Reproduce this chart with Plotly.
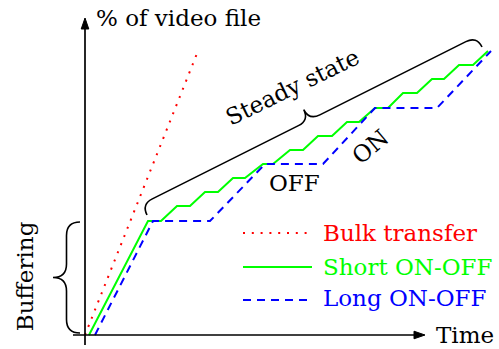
import numpy as np
import plotly.graph_objects as go

# ---- data (arbitrary units: time vs % of video file) ----
time_bulk = [0, 113]
pct_bulk = [0, 284]

time_short = [4, 63, 76, 92, 105, 120, 133, 148, 160, 178, 188, 205, 218, 233,
              247, 262, 274, 290, 303, 318, 332, 347, 359, 374, 388, 403]
pct_short = [0, 114, 114, 129, 129, 143, 143, 157, 157, 171, 171, 185, 185, 199,
             199, 213, 213, 227, 227, 242, 242, 256, 256, 270, 270, 284]

time_long = [10, 68, 125, 180, 238, 290, 352, 406]
pct_long = [0, 114, 114, 171, 171, 227, 227, 284]

series_names = ["Bulk transfer", "Short ON-OFF", "Long ON-OFF"]
series_colors = ["#ff0000", "#00ff00", "#0000ff"]

FONT = "DejaVu Serif, Liberation Serif, serif"
FS = 23

fig = go.Figure()

fig.add_trace(go.Scatter(x=time_bulk, y=pct_bulk, mode="lines",
                         line=dict(color=series_colors[0], width=2, dash="2px,6.8px"),
                         showlegend=False, hoverinfo="skip"))
fig.add_trace(go.Scatter(x=time_short, y=pct_short, mode="lines",
                         line=dict(color=series_colors[1], width=2),
                         showlegend=False, hoverinfo="skip"))
fig.add_trace(go.Scatter(x=time_long, y=pct_long, mode="lines",
                         line=dict(color=series_colors[2], width=2, dash="8px,6px"),
                         showlegend=False, hoverinfo="skip"))

shapes = []
# axes with arrows
shapes.append(dict(type="line", x0=0, x1=0, y0=-10, y1=308, xref="x", yref="y",
                   line=dict(color="black", width=1.7)))
shapes.append(dict(type="path", xref="x", yref="y",
                   path="M -3.8,306 L 0,317 L 3.8,306 Z", fillcolor="black",
                   line=dict(color="black", width=1)))
shapes.append(dict(type="line", x0=-12, x1=330, y0=0, y1=0, xref="x", yref="y",
                   line=dict(color="black", width=1.7)))
shapes.append(dict(type="path", xref="x", yref="y",
                   path="M 329,-3.8 L 340,0 L 329,3.8 Z", fillcolor="black",
                   line=dict(color="black", width=1)))


def brace(A, B, a):
    A = np.array(A, float)
    B = np.array(B, float)
    L = np.linalg.norm(B - A)
    u = (B - A) / L
    n = np.array([-u[1], u[0]])
    h = a / 2.0
    M = (A + B) / 2.0
    pts = [
        ("M", [A]),
        ("Q", [A + n * h, A + n * h + u * h]),
        ("L", [M - u * h + n * h]),
        ("Q", [M + n * h, M + n * a]),
        ("Q", [M + n * h, M + u * h + n * h]),
        ("L", [B - u * h + n * h]),
        ("Q", [B + n * h, B]),
    ]
    s = ""
    for cmd, ps in pts:
        s += cmd + " " + " ".join(f"{p[0]:.2f},{p[1]:.2f}" for p in ps) + " "
    return s.strip()


shapes.append(dict(type="path", xref="x", yref="y", path=brace((-5, 2), (-5, 113), 27),
                   line=dict(color="black", width=1.6)))
shapes.append(dict(type="path", xref="x", yref="y", path=brace((62, 120), (397, 288), 24),
                   line=dict(color="black", width=1.6)))

# legend samples
leg_y = [102, 68, 35]
dashes = ["2px,6.8px", "solid", "8px,6px"]
for yy, c, d in zip(leg_y, series_colors, dashes):
    shapes.append(dict(type="line", xref="x", yref="y", x0=158, x1=227, y0=yy, y1=yy,
                       line=dict(color=c, width=2, dash=d)))

ann = []


def txt(t, x, y, color="black", xanchor="left", angle=0):
    ann.append(dict(text=t, x=x, y=y, xref="x", yref="y", showarrow=False,
                    xanchor=xanchor, yanchor="middle", textangle=angle,
                    font=dict(family=FONT, size=FS, color=color)))


txt("% of video file", 9, 317.5)
txt("Time", 349, 0.5)
for name, c, yy in zip(series_names, series_colors, [101.6, 68.3, 36.6]):
    txt(name, 236, yy, color=c)
txt("OFF", 209, 152.5, xanchor="center")
txt("ON", 285, 188, xanchor="center", angle=-40)
txt("Steady state", 207.5, 248, xanchor="center", angle=-26)
txt("Buffering", -60.3, 58.5, xanchor="center", angle=-90)

fig.update_layout(
    width=499, height=349, autosize=False,
    margin=dict(l=0, r=0, t=0, b=0, pad=0),
    paper_bgcolor="white", plot_bgcolor="white",
    xaxis=dict(visible=False, range=[-85, 414], fixedrange=True),
    yaxis=dict(visible=False, range=[-14, 335], fixedrange=True),
    shapes=shapes, annotations=ann, showlegend=False,
)

fig.write_html("out.html", config={"displayModeBar": False},
               post_script="document.body.style.margin='0px';document.body.style.overflow='hidden';")
